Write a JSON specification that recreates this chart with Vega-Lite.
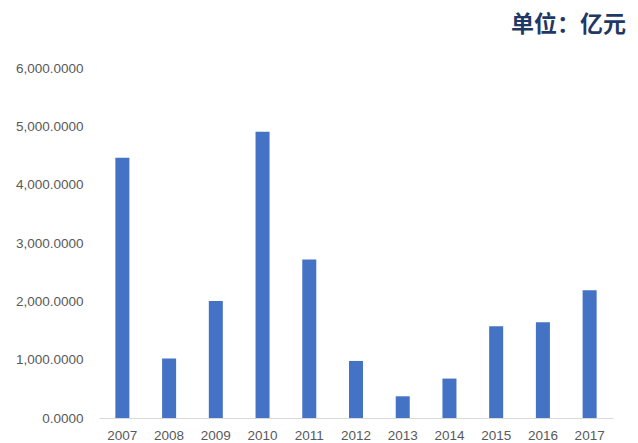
{
  "$schema": "https://vega.github.io/schema/vega-lite/v6.json",
  "autosize": {"type": "none"},
  "width": 514,
  "height": 350,
  "padding": {"left": 99, "top": 68, "right": 25, "bottom": 25},
  "background": "white",
  "title": {
    "text": "单位：亿元",
    "anchor": "end",
    "frame": "group",
    "font": "Noto Sans CJK SC",
    "fontSize": 23,
    "fontWeight": "bold",
    "color": "#1F3864",
    "offset": 24,
    "dx": 13
  },
  "data": {
    "values": [
      {"year": "2007", "value": 4460},
      {"year": "2008", "value": 1020},
      {"year": "2009", "value": 2007},
      {"year": "2010", "value": 4907},
      {"year": "2011", "value": 2718},
      {"year": "2012", "value": 978},
      {"year": "2013", "value": 372},
      {"year": "2014", "value": 676},
      {"year": "2015", "value": 1573},
      {"year": "2016", "value": 1642},
      {"year": "2017", "value": 2191}
    ]
  },
  "mark": {"type": "bar", "color": "#4472C4"},
  "encoding": {
    "x": {
      "field": "year",
      "type": "ordinal",
      "title": null,
      "scale": {"paddingInner": 0.7, "paddingOuter": 0.35},
      "axis": {
        "labelAngle": 0,
        "ticks": false,
        "domainColor": "#D9D9D9",
        "labelColor": "#595959",
        "labelFont": "Liberation Sans",
        "labelFontSize": 13.5,
        "labelPadding": 10
      }
    },
    "y": {
      "field": "value",
      "type": "quantitative",
      "title": null,
      "scale": {"domain": [0, 6000]},
      "axis": {
        "values": [0, 1000, 2000, 3000, 4000, 5000, 6000],
        "format": ",.4f",
        "grid": false,
        "domain": false,
        "ticks": false,
        "labelColor": "#595959",
        "labelFont": "Liberation Sans",
        "labelFontSize": 13.5,
        "labelPadding": 16
      }
    }
  },
  "config": {"view": {"stroke": null}}
}
